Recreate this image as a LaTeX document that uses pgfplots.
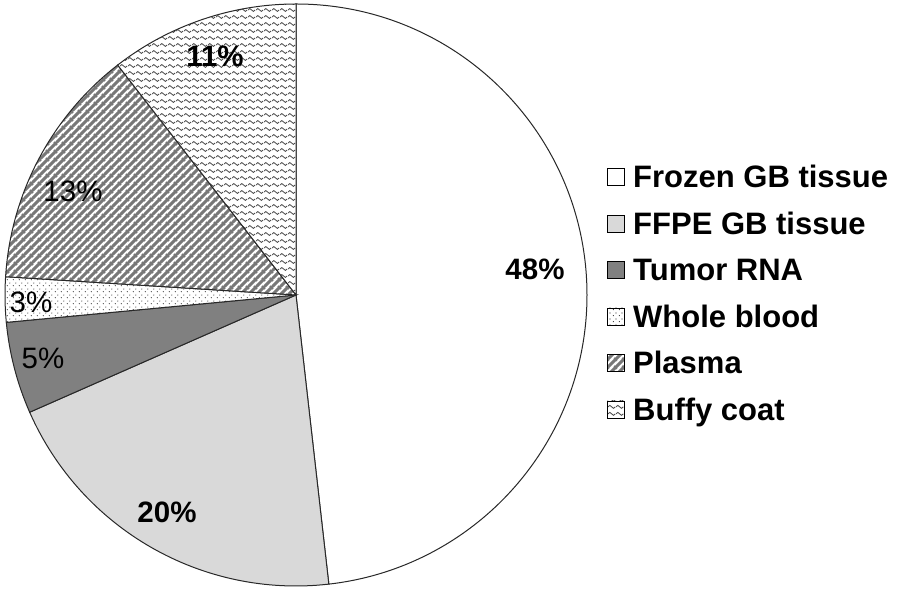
\documentclass[border=0pt]{standalone}
\usepackage{pgfplots}
\pgfplotsset{compat=1.18}
\usetikzlibrary{patterns}
\usepackage{fontspec}
\setmainfont{Liberation Sans}

\pgfdeclarepatternformonly{waves}{\pgfqpoint{0pt}{0pt}}{\pgfqpoint{8pt}{6.5pt}}{\pgfqpoint{8pt}{6.5pt}}{%
  \pgfsetlinewidth{0.9pt}%
  \pgfpathmoveto{\pgfqpoint{0pt}{3.25pt}}%
  \pgfpathcurveto{\pgfqpoint{1.33pt}{5.25pt}}{\pgfqpoint{2.67pt}{5.25pt}}{\pgfqpoint{4pt}{3.25pt}}%
  \pgfpathcurveto{\pgfqpoint{5.33pt}{1.25pt}}{\pgfqpoint{6.67pt}{1.25pt}}{\pgfqpoint{8pt}{3.25pt}}%
  \pgfusepath{stroke}}

\pgfdeclarepatternformonly{stripes}{\pgfqpoint{0pt}{0pt}}{\pgfqpoint{8pt}{8pt}}{\pgfqpoint{8pt}{8pt}}{%
  \pgfsetlinewidth{3.2pt}%
  \pgfpathmoveto{\pgfqpoint{-1pt}{-1pt}}\pgfpathlineto{\pgfqpoint{9pt}{9pt}}%
  \pgfpathmoveto{\pgfqpoint{-1pt}{7pt}}\pgfpathlineto{\pgfqpoint{1pt}{9pt}}%
  \pgfpathmoveto{\pgfqpoint{7pt}{-1pt}}\pgfpathlineto{\pgfqpoint{9pt}{1pt}}%
  \pgfusepath{stroke}}

\pgfdeclarepatternformonly{sdots}{\pgfqpoint{0pt}{0pt}}{\pgfqpoint{6pt}{6pt}}{\pgfqpoint{6pt}{6pt}}{%
  \pgfpathcircle{\pgfqpoint{1.5pt}{1.5pt}}{0.65pt}%
  \pgfpathcircle{\pgfqpoint{4.5pt}{4.5pt}}{0.65pt}%
  \pgfusepath{fill}}

\definecolor{ffpe}{RGB}{217,217,217}
\definecolor{tumor}{RGB}{128,128,128}
\definecolor{stripe}{RGB}{120,120,120}
\definecolor{edge}{RGB}{40,40,40}

\tikzset{
  s frozen/.style={fill=white},
  s ffpe/.style={fill=ffpe},
  s tumor/.style={fill=tumor},
  s blood/.style={fill=white,postaction={pattern=sdots,pattern color=black!80}},
  s plasma/.style={fill=white,postaction={pattern=stripes,pattern color=stripe}},
  s buffy/.style={fill=white,postaction={pattern=waves,pattern color=black!70}},
}

% #1 cumulative percent before the slice, #2 slice percent, #3 style
\newcommand{\slice}[3]{%
  \path[#3] (axis cs:296,296) -- ++({90-3.6*(#1)}:291pt)
     arc[start angle={90-3.6*(#1)}, end angle={90-3.6*(#1+#2)}, radius=291pt] -- cycle;
  \draw[edge,line width=1pt] (axis cs:296,296) -- ++({90-3.6*(#1)}:291pt)
     arc[start angle={90-3.6*(#1)}, end angle={90-3.6*(#1+#2)}, radius=291pt] -- cycle;}

% legend entry: #1 row index, #2 style, #3 text
\newcommand{\legentry}[3]{%
  \path[#2] (axis cs:607,{405.5-46.5*#1}) rectangle (axis cs:624,{422.5-46.5*#1});
  \draw[black,line width=0.9pt] (axis cs:607,{405.5-46.5*#1}) rectangle (axis cs:624,{422.5-46.5*#1});
  \node[anchor=base west,inner sep=0pt,font=\bfseries\fontsize{31}{36}\selectfont] at (axis cs:633,{403-46.5*#1}) {#3};}

\begin{document}
\begin{tikzpicture}
\begin{axis}[hide axis, scale only axis, width=898pt, height=591pt,
  xmin=0, xmax=898, ymin=0, ymax=591, clip=false]
\addplot[draw=none] coordinates {(0,0) (898,591)};
\path (axis cs:0,0) rectangle (axis cs:898,591);
% Values (percent): Frozen 48.2, FFPE 20.2, Tumor RNA 5.1, Whole blood 2.5, Plasma 13.5, Buffy coat 10.5
\slice{0}{48.2}{s frozen}
\slice{48.2}{20.2}{s ffpe}
\slice{68.4}{5.1}{s tumor}
\slice{73.5}{2.5}{s blood}
\slice{76.0}{13.5}{s plasma}
\slice{89.5}{10.5}{s buffy}
\node[font=\bfseries\fontsize{29.5}{34}\selectfont] at (axis cs:535,322) {48\%};
\node[font=\bfseries\fontsize{29.5}{34}\selectfont] at (axis cs:167,79) {20\%};
\node[font=\fontsize{29.5}{34}\selectfont] at (axis cs:43,233) {5\%};
\node[font=\fontsize{29.5}{34}\selectfont] at (axis cs:31,289) {3\%};
\node[font=\fontsize{29.5}{34}\selectfont] at (axis cs:73,400) {13\%};
\node[font=\bfseries\fontsize{29.5}{34}\selectfont] at (axis cs:215,535) {11\%};
\legentry{0}{s frozen}{Frozen GB tissue}
\legentry{1}{s ffpe}{FFPE GB tissue}
\legentry{2}{s tumor}{Tumor RNA}
\legentry{3}{s blood}{Whole blood}
\legentry{4}{s plasma}{Plasma}
\legentry{5}{s buffy}{Buffy coat}
\end{axis}
\end{tikzpicture}
\end{document}
